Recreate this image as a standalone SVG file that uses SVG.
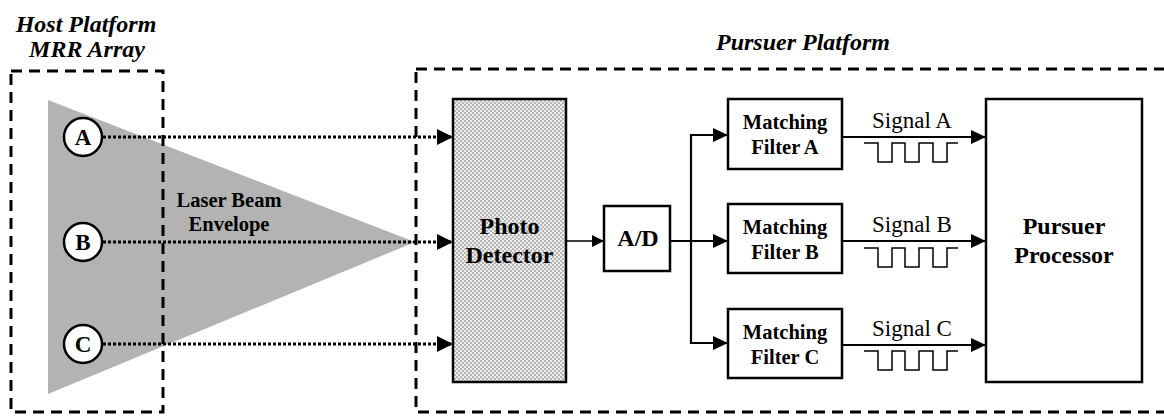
<svg xmlns="http://www.w3.org/2000/svg" width="1164" height="416" viewBox="0 0 1164 416">
<style>
  .title { font-family: "Liberation Serif", serif; font-weight: bold; font-style: italic; font-size: 24px; fill: #000; }
  .lbl { font-family: "Liberation Serif", serif; font-weight: bold; fill: #000; text-anchor: middle; }
  .sig { font-family: "Liberation Serif", serif; font-size: 23px; fill: #000; text-anchor: middle; }
  .box { fill: #fff; stroke: #000; stroke-width: 2.5; }
  .zone { fill: none; stroke: #000; stroke-width: 3; stroke-dasharray: 11 7; }
  .dot { fill: none; stroke: #000; stroke-width: 3; stroke-dasharray: 3 2; }
  .wire { fill: none; stroke: #000; stroke-width: 2.2; }
  .wave { fill: none; stroke: #000; stroke-width: 1.5; }
</style>
<defs>
  <pattern id="chk" width="4" height="4" patternUnits="userSpaceOnUse">
    <rect width="4" height="4" fill="#ededed"/>
    <rect width="2" height="2" fill="#b6b6b6"/>
    <rect x="2" y="2" width="2" height="2" fill="#b6b6b6"/>
  </pattern>
  <marker id="ahL" markerUnits="userSpaceOnUse" markerWidth="16" markerHeight="16" refX="16" refY="8" orient="auto">
    <path d="M0,0 L16,8 L0,16 z" fill="#000"/>
  </marker>
  <marker id="ahM" markerUnits="userSpaceOnUse" markerWidth="15" markerHeight="14" refX="15" refY="7" orient="auto">
    <path d="M0,0 L15,7 L0,14 z" fill="#000"/>
  </marker>
  <marker id="ahS" markerUnits="userSpaceOnUse" markerWidth="12" markerHeight="12" refX="12" refY="6" orient="auto">
    <path d="M0,0 L12,6 L0,12 z" fill="#000"/>
  </marker>
</defs>

<rect width="1164" height="416" fill="#fff"/>

<g id="host-platform">
  <polygon id="laser-beam" points="48,100 415,242 48,394" fill="#b3b3b3"/>
  <rect class="zone" x="11" y="71" width="152" height="341"/>
  <text class="title" x="86" y="32" text-anchor="middle">Host Platform</text>
  <text class="title" x="87" y="57" text-anchor="middle">MRR Array</text>
  <text class="lbl" x="229" y="207" font-size="20.5" fill="#222">Laser Beam</text>
  <text class="lbl" x="229" y="231" font-size="20.5" fill="#222">Envelope</text>
</g>

<g id="pursuer-platform">
  <rect class="zone" x="416" y="69" width="780" height="343"/>
  <text class="title" x="716" y="50">Pursuer Platform</text>
</g>

<g id="mrr-a">
  <circle cx="83" cy="137" r="19" fill="#fff" stroke="#000" stroke-width="2.5"/>
  <text class="lbl" x="83" y="145" font-size="23">A</text>
</g>
<g id="mrr-b">
  <circle cx="83" cy="242" r="19" fill="#fff" stroke="#000" stroke-width="2.5"/>
  <text class="lbl" x="83" y="250" font-size="23">B</text>
</g>
<g id="mrr-c">
  <circle cx="83" cy="344" r="19" fill="#fff" stroke="#000" stroke-width="2.5"/>
  <text class="lbl" x="83" y="352" font-size="23">C</text>
</g>

<g id="photo-detector">
  <rect x="453" y="99" width="113" height="283" fill="url(#chk)" stroke="#000" stroke-width="2.5"/>
  <text class="lbl" x="509.5" y="234" font-size="24">Photo</text>
  <text class="lbl" x="509.5" y="263" font-size="24">Detector</text>
</g>

<g id="ad">
  <rect class="box" x="604" y="206" width="66" height="65"/>
  <text class="lbl" x="638" y="246" font-size="24">A/D</text>
</g>

<g id="filter-a">
  <rect class="box" x="728" y="99" width="114" height="70"/>
  <text class="lbl" x="785" y="129" font-size="20.5">Matching</text>
  <text class="lbl" x="785" y="154" font-size="20.5">Filter A</text>
</g>
<g id="filter-b">
  <rect class="box" x="728" y="204" width="114" height="69"/>
  <text class="lbl" x="785" y="234" font-size="20.5">Matching</text>
  <text class="lbl" x="785" y="259" font-size="20.5">Filter B</text>
</g>
<g id="filter-c">
  <rect class="box" x="728" y="309" width="114" height="69"/>
  <text class="lbl" x="785" y="339" font-size="20.5">Matching</text>
  <text class="lbl" x="785" y="364" font-size="20.5">Filter C</text>
</g>

<g id="processor">
  <rect class="box" x="986" y="99" width="156" height="283"/>
  <text class="lbl" x="1064" y="234" font-size="24">Pursuer</text>
  <text class="lbl" x="1064" y="263" font-size="24">Processor</text>
</g>

<g id="connectors">
  <line class="dot" x1="103" y1="137" x2="453" y2="137" marker-end="url(#ahL)"/>
  <line class="dot" x1="103" y1="242" x2="453" y2="242" marker-end="url(#ahL)"/>
  <line class="dot" x1="103" y1="344" x2="453" y2="344" marker-end="url(#ahL)"/>
  <line x1="566" y1="241" x2="604" y2="241" stroke="#000" stroke-width="1.5" marker-end="url(#ahS)"/>
  <line class="wire" x1="670" y1="241" x2="728" y2="241" marker-end="url(#ahM)"/>
  <polyline class="wire" points="728,135 691,135 691,343 728,343" marker-end="url(#ahM)"/>
  <line class="wire" x1="691" y1="135" x2="728" y2="135" marker-end="url(#ahM)"/>
  <line class="wire" x1="842" y1="137" x2="986" y2="137" marker-end="url(#ahM)"/>
  <line class="wire" x1="842" y1="241" x2="986" y2="241" marker-end="url(#ahM)"/>
  <line class="wire" x1="842" y1="345" x2="986" y2="345" marker-end="url(#ahM)"/>
</g>

<g id="signal-a">
  <text class="sig" x="912" y="128">Signal A</text>
  <polyline class="wave" points="864,143 878,143 878,162 892,162 892,143 905,143 905,162 919,162 919,143 933,143 933,162 947,162 947,143 958,143"/>
</g>
<g id="signal-b">
  <text class="sig" x="912" y="232">Signal B</text>
  <polyline class="wave" points="864,248 878,248 878,267 892,267 892,248 905,248 905,267 919,267 919,248 933,248 933,267 947,267 947,248 958,248"/>
</g>
<g id="signal-c">
  <text class="sig" x="912" y="336">Signal C</text>
  <polyline class="wave" points="864,351 878,351 878,370 892,370 892,351 905,351 905,370 919,370 919,351 933,351 933,370 947,370 947,351 958,351"/>
</g>
</svg>
